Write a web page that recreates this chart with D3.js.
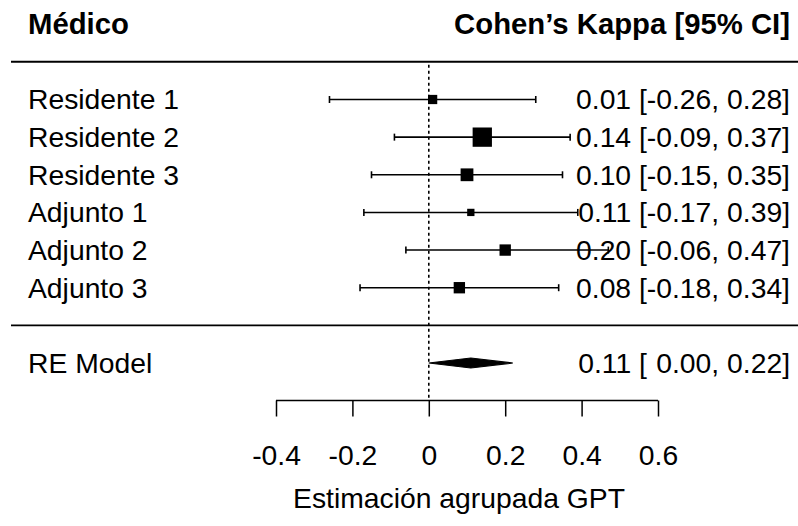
<!DOCTYPE html>
<html>
<head>
<meta charset="utf-8">
<script src="https://cdn.jsdelivr.net/npm/d3@7"></script>
<style>
  html, body { margin: 0; padding: 0; background: #fff; }
  svg { display: block; }
  text { font-family: "Liberation Sans", Arial, sans-serif; fill: #000; }
</style>
</head>
<body>
<div id="chart"></div>
<script>
// ---- data ----
const studies = ["Residente 1", "Residente 2", "Residente 3", "Adjunto 1", "Adjunto 2", "Adjunto 3"];
const estimates = [0.01, 0.14, 0.10, 0.11, 0.20, 0.08];
const lower = [-0.26, -0.09, -0.15, -0.17, -0.06, -0.18];
const upper = [0.28, 0.37, 0.35, 0.39, 0.47, 0.34];
const weights = [15.2, 20.9, 17.2, 14.1, 16.4, 16.4];
const summaryLabel = "RE Model";
const summary = { est: 0.11, lo: 0.00, hi: 0.22 };
const tickValues = [-0.4, -0.2, 0, 0.2, 0.4, 0.6];
const tickLabels = ["-0.4", "-0.2", "0", "0.2", "0.4", "0.6"];
const headerLeft = "Médico";
const headerRight = "Cohen’s Kappa [95% CI]";
const xTitle = "Estimación agrupada GPT";

// ---- layout ----
const W = 798, H = 526;
const svg = d3.select("#chart").append("svg").attr("width", W).attr("height", H);

const x = d3.scaleLinear().domain([-0.4, 0.6]).range([276, 658]);
const k = studies.length;
const row = d3.scaleLinear().domain([k, -1]).range([99.5, 363]);
const size = d3.scaleLinear().domain([d3.min(weights), d3.max(weights)]).range([7.3, 19.3]);

const f2 = v => (v < 0 ? "-" : "") + Math.abs(v).toFixed(2);

const leftX = 28, rightX = 790, fs = 28.3, hfs = 29.3;

function ciText(sel, e, l, u) {
  sel.attr("xml:space", "preserve").style("white-space", "pre");
  if (l < 0) {
    sel.text(`${f2(e)} [${f2(l)}, ${f2(u)}]`);
  } else {
    sel.append("tspan").text(`${f2(e)} [ `);
    sel.append("tspan").attr("dx", 1.5).text(`${f2(l)}, ${f2(u)}]`);
  }
}

// headers
svg.append("text").attr("x", leftX).attr("y", row(k + 2)).attr("dy", "0.35em")
  .attr("font-size", hfs).attr("font-weight", "bold").text(headerLeft);
svg.append("text").attr("x", rightX).attr("y", row(k + 2)).attr("dy", "0.35em")
  .attr("text-anchor", "end").attr("font-size", hfs).attr("font-weight", "bold").text(headerRight);

// horizontal separators
svg.append("line").attr("x1", 11).attr("x2", W).attr("y1", row(k + 1)).attr("y2", row(k + 1))
  .attr("stroke", "#000").attr("stroke-width", 2);
svg.append("line").attr("x1", 11).attr("x2", W).attr("y1", row(0)).attr("y2", row(0))
  .attr("stroke", "#000").attr("stroke-width", 1.6);

// reference line
const axisY = 400.5;
svg.append("line").attr("x1", x(0)).attr("x2", x(0)).attr("y1", row(k + 1) + 3).attr("y2", axisY)
  .attr("stroke", "#000").attr("stroke-width", 1.6).attr("stroke-dasharray", "3,3");

// study rows
const data = studies.map((s, i) => ({ s, e: estimates[i], l: lower[i], u: upper[i], w: weights[i], r: k - i }));
const g = svg.append("g");
data.forEach(d => {
  const y = row(d.r);
  g.append("line").attr("x1", x(d.l)).attr("x2", x(d.u)).attr("y1", y).attr("y2", y)
    .attr("stroke", "#000").attr("stroke-width", 1.6);
  [d.l, d.u].forEach(v => {
    g.append("line").attr("x1", x(v)).attr("x2", x(v)).attr("y1", y - 3.5).attr("y2", y + 3.5)
      .attr("stroke", "#000").attr("stroke-width", 1.6);
  });
  const s = size(d.w);
  g.append("rect").attr("x", x(d.e) - s / 2).attr("y", y - s / 2).attr("width", s).attr("height", s).attr("fill", "#000");
  g.append("text").attr("x", leftX).attr("y", y).attr("dy", "0.35em").attr("font-size", fs).text(d.s);
  g.append("text").attr("x", rightX).attr("y", y).attr("dy", "0.35em").attr("text-anchor", "end")
    .attr("font-size", fs).call(ciText, d.e, d.l, d.u);
});

// summary diamond
const sy = row(-1);
svg.append("polygon")
  .attr("points", [[x(summary.lo), sy], [x(summary.est), sy - 5], [x(summary.hi), sy], [x(summary.est), sy + 5]].map(p => p.join(",")).join(" "))
  .attr("fill", "#000").attr("stroke", "#000").attr("stroke-width", 1.2);
svg.append("text").attr("x", leftX).attr("y", sy).attr("dy", "0.35em").attr("font-size", fs).text(summaryLabel);
svg.append("text").attr("x", rightX).attr("y", sy).attr("dy", "0.35em").attr("text-anchor", "end")
  .attr("font-size", fs).call(ciText, summary.est, summary.lo, summary.hi);

// axis
const axis = d3.axisBottom(x).tickValues(tickValues).tickSize(16).tickPadding(0)
  .tickFormat((d, i) => tickLabels[i]);
const ag = svg.append("g").attr("transform", `translate(0,${axisY})`).call(axis);
ag.select(".domain").attr("d", `M${x(-0.4)},0H${x(0.6)}`).attr("stroke", "#000").attr("stroke-width", 1.5);
ag.selectAll(".tick line").attr("stroke", "#000").attr("stroke-width", 1.5);
ag.selectAll(".tick text").attr("font-size", fs).attr("font-family", "Liberation Sans, Arial, sans-serif")
  .attr("fill", "#000").attr("dy", null).attr("y", 64.5);

svg.append("text").attr("x", 459).attr("y", 508).attr("text-anchor", "middle").attr("font-size", fs).text(xTitle);
</script>
</body>
</html>
